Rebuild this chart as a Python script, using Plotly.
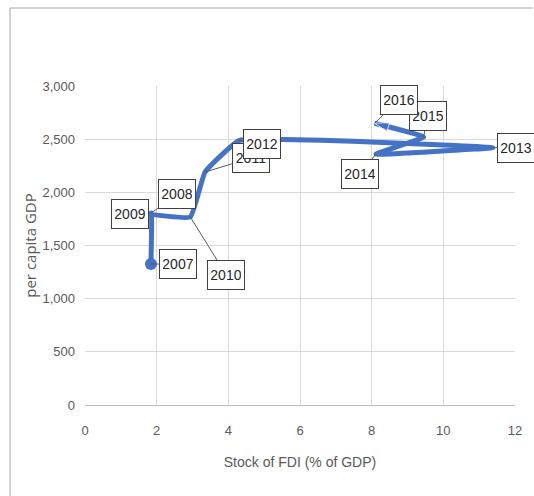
import plotly.graph_objects as go

# Stock of FDI (% of GDP) versus per capita GDP, 2007-2016
years = ["2007", "2008", "2009", "2010", "2011", "2012", "2013", "2014", "2015", "2016"]
fdi_stock = [1.84, 1.85, 1.79, 2.94, 3.35, 4.30, 11.38, 8.12, 9.45, 8.08]
gdp_per_capita = [1326, 1806, 1796, 1768, 2191, 2487, 2420, 2360, 2520, 2650]

x_ticks = [0, 2, 4, 6, 8, 10, 12]
y_ticks = [0, 500, 1000, 1500, 2000, 2500, 3000]

# pixel offsets of each year's callout box from its point
label_offsets = {
    "2007": (27, 0), "2008": (26, -19), "2009": (-19, 0), "2010": (36, 58),
    "2011": (46, -14), "2012": (23, 3), "2013": (23, 0), "2014": (-16, 20),
    "2015": (4, -21), "2016": (24, -23),
}

W, H = 534, 496
ML, MR, MT, MB = 85, 13, 86, 91
PW, PH = W - ML - MR, H - MT - MB

LINE = "#4472C4"
TEXT = "#595959"
GRID = "#d9d9d9"
FONT = "Liberation Sans, Arial, sans-serif"

fig = go.Figure()
# smoothed path through the years
fig.add_trace(go.Scatter(
    x=fdi_stock, y=gdp_per_capita, mode="lines",
    line=dict(color=LINE, width=5, shape="spline", smoothing=0.3),
    hoverinfo="skip", showlegend=False,
))
# round start cap
fig.add_trace(go.Scatter(
    x=fdi_stock[:1], y=gdp_per_capita[:1], mode="markers",
    marker=dict(size=12, symbol="circle", color=LINE),
    hoverinfo="skip", showlegend=False,
))
# arrow head on the final year, oriented along the last segment
fig.add_trace(go.Scatter(
    x=fdi_stock[-2:], y=gdp_per_capita[-2:], mode="markers",
    marker=dict(size=[0, 15], symbol="arrow", color=LINE, angleref="previous",
                standoff=0),
    hoverinfo="skip", showlegend=False,
))

for yr, xv, yv in zip(years, fdi_stock, gdp_per_capita):
    ax, ay = label_offsets[yr]
    fig.add_annotation(
        x=xv, y=yv, text=yr, ax=ax, ay=ay, axref="pixel", ayref="pixel",
        showarrow=True, arrowhead=0, arrowwidth=1, arrowcolor="#595959",
        bgcolor="white", bordercolor="#404040", borderwidth=1, borderpad=3,
        width=30, height=22,
        font=dict(family=FONT, size=14, color="#262626"),
    )

# outer chart frame (left and top edges)
fx0 = (9 - ML) / PW
fy1 = 1 + (MT - 8) / PH
fy0 = -(MB + 5) / PH
fx1 = 1 + (MR + 5) / PW
fig.add_shape(type="line", xref="paper", yref="paper", x0=fx0, x1=fx0, y0=fy0, y1=fy1,
              line=dict(color="#a6a6a6", width=1))
fig.add_shape(type="line", xref="paper", yref="paper", x0=fx0, x1=fx1, y0=fy1, y1=fy1,
              line=dict(color="#a6a6a6", width=1))

fig.update_xaxes(
    range=[0, 12], tickvals=x_ticks, showgrid=True, gridcolor=GRID, gridwidth=1,
    showline=True, linecolor="#bfbfbf", linewidth=1, zeroline=False,
    tickfont=dict(family=FONT, size=13, color=TEXT), ticklabelstandoff=13,
    title=dict(text="Stock of FDI (% of GDP)", standoff=20,
               font=dict(family=FONT, size=14, color=TEXT)),
)
fig.update_yaxes(
    range=[0, 3000], tickvals=y_ticks, tickformat=",", showgrid=True, gridcolor=GRID,
    gridwidth=1, showline=False, zeroline=False,
    tickfont=dict(family=FONT, size=13, color=TEXT), ticklabelstandoff=9,
    title=dict(text="per capita GDP", standoff=2,
               font=dict(family="Open Sans, DejaVu Sans, sans-serif", size=15, color=TEXT)),
)
fig.update_layout(
    width=W, height=H, margin=dict(l=ML, r=MR, t=MT, b=MB),
    paper_bgcolor="white", plot_bgcolor="white",
)

fig.write_html("out.html")
